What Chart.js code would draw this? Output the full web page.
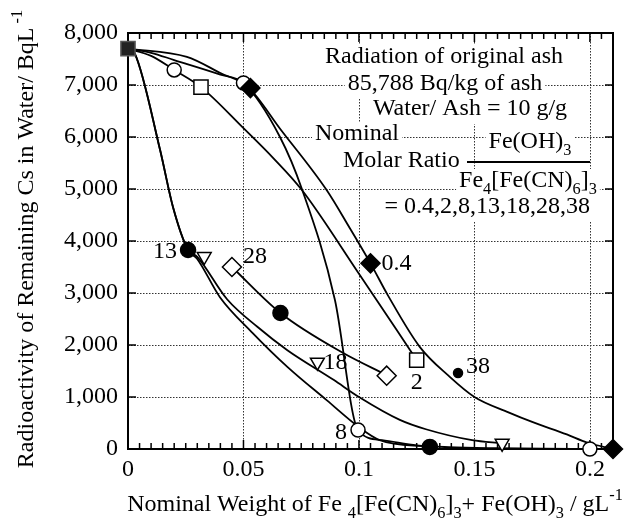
<!DOCTYPE html>
<html>
<head>
<meta charset="utf-8">
<script src="https://cdn.jsdelivr.net/npm/chart.js@4.4.0/dist/chart.umd.min.js"></script>
<style>
  html, body { margin: 0; padding: 0; background: #fff; }
  #chart { display: block; }
</style>
</head>
<body>
<canvas id="chart" width="640" height="524"></canvas>
<script>
// axis ticks
const xTicks = [0, 0.05, 0.1, 0.15, 0.2];
const yTicks = [0, 1000, 2000, 3000, 4000, 5000, 6000, 7000, 8000];

// fitted curves (one per nominal molar ratio)
const curve04X = [0, 0.0255, 0.04, 0.052, 0.066, 0.086, 0.096, 0.105, 0.1126, 0.1264, 0.139, 0.15, 0.165, 0.175, 0.19, 0.199, 0.21];
const curve04Y = [7700, 7540, 7230, 6960, 6150, 4980, 4250, 3570, 2950, 1960, 1400, 1000, 700, 520, 280, 120, 0];
const curve2X = [0, 0.01, 0.02, 0.0316, 0.05, 0.0628, 0.0753, 0.1, 0.1165, 0.125];
const curve2Y = [7700, 7560, 7290, 6960, 6170, 5600, 4980, 3370, 2280, 1710];
const curve8X = [0, 0.01, 0.02, 0.04, 0.05, 0.0658, 0.0753, 0.0896, 0.0996, 0.11, 0.125, 0.139, 0.16, 0.18, 0.2];
const curve8Y = [7700, 7620, 7480, 7200, 7040, 6000, 5000, 2865, 365, 170, 70, 35, 15, 5, 0];
const curve13X = [0, 0.003, 0.0139, 0.0195, 0.026, 0.0299, 0.0398, 0.054, 0.069, 0.086, 0.1, 0.109, 0.131];
const curve13Y = [7700, 7600, 5750, 4650, 3827, 3660, 2920, 2230, 1580, 940, 420, 170, 40];
const curve18X = [0, 0.003, 0.0139, 0.0195, 0.026, 0.0299, 0.0429, 0.056, 0.069, 0.089, 0.1, 0.1177, 0.129, 0.149, 0.162];
const curve18Y = [7700, 7600, 5750, 4650, 3827, 3700, 2880, 2350, 1900, 1330, 1000, 560, 380, 170, 110];
const curve28X = [0.045, 0.066, 0.093, 0.112];
const curve28Y = [3500, 2615, 1850, 1420];

// measured points by marker
const originX = [0];
const originY = [7700];
const filledDiamondX = [0.053, 0.105, 0.21];
const filledDiamondY = [6940, 3570, 0];
const openSquareX = [0.0316, 0.125];
const openSquareY = [6960, 1710];
const openCircleX = [0.02, 0.05, 0.0996, 0.2];
const openCircleY = [7290, 7040, 365, 0];
const bigDotX = [0.026, 0.066, 0.1307];
const bigDotY = [3827, 2615, 40];
const triangleX = [0.033, 0.082, 0.162];
const triangleY = [3700, 1670, 110];
const openDiamondX = [0.045, 0.112];
const openDiamondY = [3500, 1410];
const smallDotX = [0.1429];
const smallDotY = [1460];

// molar ratio labels and the point each one sits next to
const ratioLabels = ['0.4', '2', '8', '13', '18', '28', '38'];
const labelAtX = [0.105, 0.125, 0.0996, 0.026, 0.082, 0.045, 0.1429];
const labelAtY = [3570, 1710, 365, 3827, 1670, 3500, 1460];

const SERIF = "'Liberation Serif', 'Times New Roman', serif";
const FS = 24;
const font = (size) => size + "px " + SERIF;

const pts = (xs, ys) => xs.map((x, i) => ({ x: x, y: ys[i] }));

const curve = (xs, ys) => ({
  data: pts(xs, ys),
  showLine: true,
  pointRadius: 0,
  borderColor: "#000",
  borderWidth: 1.8,
  cubicInterpolationMode: "monotone",
  order: 2,
});

const marker = (xs, ys, style, radius, fill, extra) =>
  Object.assign(
    {
      data: pts(xs, ys),
      showLine: false,
      pointStyle: style,
      pointRadius: radius,
      pointBackgroundColor: fill,
      pointBorderColor: "#000",
      pointBorderWidth: 1.5,
      clip: false,
      order: 1,
    },
    extra || {}
  );

// text with sub/superscripts: segments are [text, kind]
function runWidth(ctx, segs, size) {
  let w = 0;
  segs.forEach(([t, k]) => {
    ctx.font = font(k ? size * 0.68 : size);
    w += ctx.measureText(t).width;
  });
  return w;
}

function drawRun(ctx, segs, x, y, size, align) {
  const w = runWidth(ctx, segs, size);
  let cx = align === "center" ? x - w / 2 : align === "right" ? x - w : x;
  ctx.textAlign = "left";
  ctx.textBaseline = "alphabetic";
  segs.forEach(([t, k]) => {
    ctx.font = font(k ? size * 0.68 : size);
    const dy = k === "sub" ? size * 0.3 : k === "sup" ? -size * 0.45 : 0;
    ctx.fillText(t, cx, y + dy);
    cx += ctx.measureText(t).width;
  });
}

// the note block in the upper right
const noteLines = [
  { segs: [["Radiation of original ash"]], x: 444, y: 63, align: "center" },
  { segs: [["85,788 Bq/kg of ash"]], x: 445, y: 90, align: "center" },
  { segs: [["Water/ Ash = 10 g/g"]], x: 470, y: 115, align: "center" },
  { segs: [["Nominal"]], x: 315, y: 140, align: "left" },
  { segs: [["Molar Ratio"]], x: 343, y: 167, align: "left" },
  { segs: [["Fe(OH)"], ["3", "sub"]], x: 530, y: 148, align: "center" },
  { segs: [["Fe"], ["4", "sub"], ["[Fe(CN)"], ["6", "sub"], ["]"], ["3", "sub"]], x: 528, y: 187, align: "center" },
  { segs: [["= 0.4,2,8,13,18,28,38"]], x: 590, y: 213, align: "right" },
];

const labelOffsets = {
  "0.4": [11, 0, "left"],
  "2": [0, 23, "center"],
  "8": [-11, 3, "right"],
  "13": [-11, 2, "right"],
  "18": [6, 1, "left"],
  "28": [11, -10, "left"],
  "38": [8, -6, "left"],
};

const framePlugin = {
  id: "frame",
  beforeDatasetsDraw(chart) {
    const { ctx, chartArea: a, scales } = chart;
    const xs = scales.x, ys = scales.y;
    ctx.save();

    // dotted grid
    ctx.strokeStyle = "#333";
    ctx.lineWidth = 1;
    ctx.setLineDash([1.5, 1.5]);
    xTicks.slice(1).forEach((v) => {
      const px = Math.round(xs.getPixelForValue(v)) + 0.5;
      ctx.beginPath();
      ctx.moveTo(px, a.top);
      ctx.lineTo(px, a.bottom);
      ctx.stroke();
    });
    yTicks.slice(1, -1).forEach((v) => {
      const py = Math.round(ys.getPixelForValue(v)) + 0.5;
      ctx.beginPath();
      ctx.moveTo(a.left, py);
      ctx.lineTo(a.right, py);
      ctx.stroke();
    });
    ctx.setLineDash([]);

    // note block, each line on white
    noteLines.forEach((n) => {
      const w = runWidth(ctx, n.segs, FS);
      const x0 = n.align === "center" ? n.x - w / 2 : n.align === "right" ? n.x - w : n.x;
      ctx.fillStyle = "#fff";
      ctx.fillRect(x0 - 3, n.y - 18, w + 6, 27);
      ctx.fillStyle = "#000";
      drawRun(ctx, n.segs, n.x, n.y, FS, n.align);
    });
    ctx.strokeStyle = "#000";
    ctx.lineWidth = 2;
    ctx.beginPath();
    ctx.moveTo(467, 162);
    ctx.lineTo(590, 162);
    ctx.stroke();

    // frame and inward ticks
    ctx.lineWidth = 2;
    ctx.strokeRect(a.left, a.top, a.right - a.left, a.bottom - a.top);
    ctx.lineWidth = 1.5;
    yTicks.forEach((v) => {
      const py = ys.getPixelForValue(v);
      ctx.beginPath();
      ctx.moveTo(a.left, py);
      ctx.lineTo(a.left + 8, py);
      ctx.moveTo(a.right, py);
      ctx.lineTo(a.right - 8, py);
      ctx.stroke();
    });
    const minorStep = 0.005;
    for (let i = 0; i * minorStep <= xs.max + 1e-9; i++) {
      const px = xs.getPixelForValue(i * minorStep);
      const len = i % 10 === 0 ? 9 : 6;
      ctx.beginPath();
      ctx.moveTo(px, a.bottom);
      ctx.lineTo(px, a.bottom - len);
      ctx.moveTo(px, a.top);
      ctx.lineTo(px, a.top + len);
      ctx.stroke();
    }
    ctx.restore();
  },
  afterDraw(chart) {
    const { ctx, scales } = chart;
    ctx.save();
    ctx.fillStyle = "#000";

    // molar ratio labels
    ctx.font = font(FS);
    ctx.textBaseline = "middle";
    ratioLabels.forEach((lab, i) => {
      const [dx, dy, align] = labelOffsets[lab];
      ctx.textAlign = align;
      ctx.fillText(lab, scales.x.getPixelForValue(labelAtX[i]) + dx, scales.y.getPixelForValue(labelAtY[i]) + dy);
    });

    // x axis title
    drawRun(
      ctx,
      [["Nominal Weight of Fe "], ["4", "sub"], ["[Fe(CN)"], ["6", "sub"], ["]"], ["3", "sub"], ["+ Fe(OH)"], ["3", "sub"], [" / gL"], ["-1", "sup"]],
      375, 511, FS, "center"
    );

    // y axis title, rotated
    ctx.translate(33, 239);
    ctx.rotate(-Math.PI / 2);
    drawRun(ctx, [["Radioactivity of Remaining Cs in Water/ BqL"], [" -1", "sup"]], 0, 0, FS, "center");
    ctx.restore();
  },
};

new Chart(document.getElementById("chart"), {
  type: "scatter",
  data: {
    datasets: [
      curve(curve04X, curve04Y),
      curve(curve2X, curve2Y),
      curve(curve8X, curve8Y),
      curve(curve13X, curve13Y),
      curve(curve18X, curve18Y),
      curve(curve28X, curve28Y),
      marker(originX, originY, "rect", 10, "#222", { pointBorderColor: "#555" }),
      marker(filledDiamondX, filledDiamondY, "rectRot", 9.5, "#000"),
      marker(openSquareX, openSquareY, "rect", 10, "#fff"),
      marker(openCircleX, openCircleY, "circle", 7, "#fff"),
      marker(bigDotX, bigDotY, "circle", 7.5, "#000"),
      marker(triangleX, triangleY, "triangle", 8, "#fff", { pointRotation: 180 }),
      marker(openDiamondX, openDiamondY, "rectRot", 9.5, "#fff"),
      marker(smallDotX, smallDotY, "circle", 4.5, "#000"),
    ],
  },
  options: {
    responsive: false,
    animation: false,
    devicePixelRatio: 1,
    layout: { padding: { top: 33, right: 27, left: 0, bottom: 0 } },
    plugins: { legend: { display: false }, tooltip: { enabled: false } },
    scales: {
      x: {
        type: "linear",
        min: 0,
        max: 0.21,
        afterBuildTicks: (s) => { s.ticks = xTicks.map((v) => ({ value: v })); },
        afterFit: (s) => { s.height = 75; },
        grid: { display: false, drawTicks: false },
        border: { display: false },
        ticks: {
          color: "#000",
          font: { family: SERIF, size: FS },
          padding: 6,
          maxRotation: 0,
          autoSkip: false,
          callback: (v) => String(v),
        },
      },
      y: {
        type: "linear",
        min: 0,
        max: 8000,
        afterBuildTicks: (s) => { s.ticks = yTicks.map((v) => ({ value: v })); },
        afterFit: (s) => { s.width = 128; },
        grid: { display: false, drawTicks: false },
        border: { display: false },
        ticks: {
          color: "#000",
          font: { family: SERIF, size: FS },
          padding: 10,
          autoSkip: false,
          callback: (v) => v.toLocaleString("en-US"),
        },
      },
    },
  },
  plugins: [framePlugin],
});
</script>
</body>
</html>
